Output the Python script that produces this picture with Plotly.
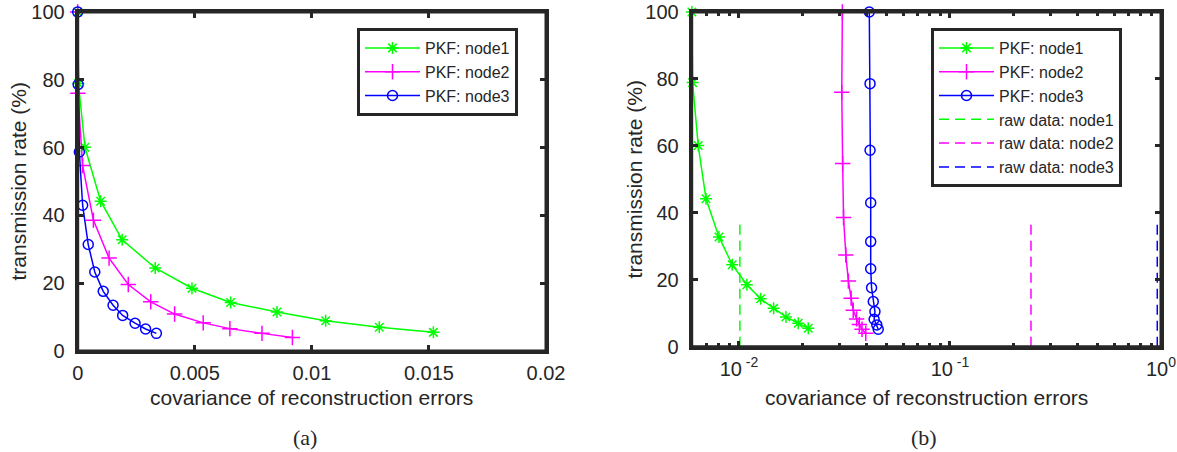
import plotly.graph_objects as go

# ---------------- data ----------------
rate_node1 = [100, 78.9, 60.1, 44.2, 32.8, 24.5, 18.5, 14.3, 11.5, 8.9, 7.0, 5.5]
rate_node2 = [100, 76.0, 54.7, 38.6, 27.4, 19.6, 14.5, 10.9, 8.3, 6.6, 5.2, 4.0]
rate_node3 = [100, 78.6, 58.7, 43.0, 31.4, 23.3, 17.6, 13.5, 10.5, 8.2, 6.5, 5.2]

cov_a_node1 = [0.0, 0.00003, 0.00031, 0.00098, 0.0019, 0.00331, 0.00488, 0.00653, 0.00851, 0.01059, 0.01288, 0.01519]
cov_a_node2 = [0.0, 0.00001, 0.00021, 0.00067, 0.00134, 0.00216, 0.00312, 0.00414, 0.00536, 0.0065, 0.00787, 0.00917]
cov_a_node3 = [0.0, 0.00002, 0.00007, 0.00021, 0.00045, 0.00073, 0.00109, 0.00151, 0.00192, 0.00245, 0.0029, 0.00336]

cov_b_node1 = [0.00598, 0.00603, 0.00641, 0.00698, 0.00804, 0.00929, 0.0109, 0.01267, 0.0146, 0.0167, 0.0191, 0.0213]
cov_b_node2 = [0.0309, 0.0307, 0.0310, 0.0313, 0.0321, 0.0330, 0.0340, 0.0348, 0.0361, 0.0372, 0.0383, 0.0399]
cov_b_node3 = [0.04146, 0.0418, 0.0418, 0.0421, 0.0421, 0.0421, 0.0425, 0.0433, 0.0441, 0.0437, 0.0450, 0.0457]

raw_cov = [0.0101, 0.242, 0.96]
raw_rate = [0, 38]

names = ["node1", "node2", "node3"]
y_ticks = [0, 20, 40, 60, 80, 100]
x_ticks_a = [0, 0.005, 0.01, 0.015, 0.02]
x_ticklabels_a = ["0", "0.005", "0.01", "0.015", "0.02"]
x_ticks_b = [0.01, 0.1, 1]
x_ticklabels_b = ["10<sup> -2</sup>", "10<sup> -1</sup>", "10<sup>0</sup>"]

# ---------------- styling ----------------
W, H = 1177, 452
colors = ["#00FF00", "#FF00FF", "#0000FF"]
symbols = ["asterisk-open", "cross-thin-open", "circle-open"]
msizes = [10, 11, 10]
INK = "#262626"
FONT = "Liberation Sans, Arial, sans-serif"

def px_x(p):
    return p / W

def px_y(p):
    return (H - p) / H

fig = go.Figure()

rates = [rate_node1, rate_node2, rate_node3]
cov_a = [cov_a_node1, cov_a_node2, cov_a_node3]
cov_b = [cov_b_node1, cov_b_node2, cov_b_node3]

for i in range(3):
    fig.add_trace(go.Scatter(
        x=cov_a[i], y=rates[i], mode="lines+markers", name="PKF: " + names[i],
        line=dict(color=colors[i], width=1.5), cliponaxis=False,
        marker=dict(symbol=symbols[i], size=msizes[i], color=colors[i],
                    line=dict(color=colors[i], width=1.5)),
        xaxis="x", yaxis="y", legend="legend"))

for i in range(3):
    fig.add_trace(go.Scatter(
        x=cov_b[i], y=rates[i], mode="lines+markers", name="PKF: " + names[i],
        line=dict(color=colors[i], width=1.5), cliponaxis=False,
        marker=dict(symbol=symbols[i], size=msizes[i], color=colors[i],
                    line=dict(color=colors[i], width=1.5)),
        xaxis="x2", yaxis="y2", legend="legend2"))

for i in range(3):
    fig.add_trace(go.Scatter(
        x=[raw_cov[i], raw_cov[i]], y=raw_rate, mode="lines",
        name="raw data: " + names[i],
        line=dict(color=colors[i], width=1.5, dash="10px,6px"),
        xaxis="x2", yaxis="y2", legend="legend2"))

axis_common = dict(
    showline=True, linecolor=INK, linewidth=3, mirror="ticks",
    ticks="inside", ticklen=6, tickwidth=3, tickcolor=INK,
    showgrid=False, zeroline=False, automargin=False,
    ticklabeloverflow="allow",
    tickfont=dict(family=FONT, size=20, color=INK),
)

dom_a = [px_x(77.7), px_x(546)]
dom_b = [px_x(691.7), px_x(1161)]

legend_common = dict(
    xanchor="left", yanchor="top", bgcolor="white", bordercolor=INK,
    borderwidth=3, font=dict(family=FONT, size=16, color=INK), tracegroupgap=0,
    itemwidth=55,
)

fig.update_layout(
    template="none",
    width=W, height=H,
    margin=dict(l=0, r=0, t=0, b=0, pad=0, autoexpand=False),
    paper_bgcolor="white", plot_bgcolor="white",
    font=dict(family=FONT, color=INK),
    xaxis=dict(domain=dom_a, range=[0, 0.02], tickvals=x_ticks_a,
               ticktext=x_ticklabels_a, anchor="y", ticklabelstandoff=2,
               **axis_common),
    yaxis=dict(domain=[px_y(351), px_y(12)], range=[0, 100], tickvals=y_ticks,
               anchor="x", ticklabelstandoff=6, **axis_common),
    xaxis2=dict(domain=dom_b, type="log", range=[-2.224, 0], tickvals=x_ticks_b,
                ticktext=x_ticklabels_b, anchor="y2", ticklabelstandoff=2,
                minor=dict(ticks="inside", ticklen=4, tickwidth=3, tickcolor=INK,
                           tickvals=[0.006, 0.007, 0.008, 0.009,
                                     0.02, 0.03, 0.04, 0.05, 0.06, 0.07, 0.08, 0.09,
                                     0.2, 0.3, 0.4, 0.5, 0.6, 0.7, 0.8, 0.9],
                           showgrid=False),
                **axis_common),
    yaxis2=dict(domain=[px_y(346.7), px_y(12)], range=[0, 100], tickvals=y_ticks,
                anchor="x2", ticklabelstandoff=6, **axis_common),
    legend=dict(x=px_x(357), y=px_y(28), **legend_common),
    legend2=dict(x=px_x(931), y=px_y(28), **legend_common),
    showlegend=True,
)

# box frames around each axes
shapes = []
for xr, yr in (("x domain", "y domain"), ("x2 domain", "y2 domain")):
    shapes.append(dict(type="rect", xref=xr, yref=yr, x0=0, x1=1, y0=0, y1=1,
                       line=dict(color=INK, width=3), layer="above"))
fig.update_layout(shapes=shapes)

ann_font = dict(family=FONT, size=21, color=INK)
serif = dict(family="Liberation Serif, DejaVu Serif, serif", size=22, color=INK)
annotations = [
    dict(text="covariance of reconstruction errors", x=(dom_a[0] + dom_a[1]) / 2,
         y=px_y(397), xref="paper", yref="paper", showarrow=False,
         xanchor="center", yanchor="middle", font=ann_font),
    dict(text="covariance of reconstruction errors", x=(dom_b[0] + dom_b[1]) / 2,
         y=px_y(397), xref="paper", yref="paper", showarrow=False,
         xanchor="center", yanchor="middle", font=ann_font),
    dict(text="transmission rate (%)", x=px_x(18), y=px_y(181.5), xref="paper",
         yref="paper", showarrow=False, textangle=-90, xanchor="center",
         yanchor="middle", font=ann_font),
    dict(text="transmission rate (%)", x=px_x(634), y=px_y(179.4), xref="paper",
         yref="paper", showarrow=False, textangle=-90, xanchor="center",
         yanchor="middle", font=ann_font),
    dict(text="(a)", x=px_x(305), y=px_y(437), xref="paper", yref="paper",
         showarrow=False, xanchor="center", yanchor="middle", font=serif),
    dict(text="(b)", x=px_x(924), y=px_y(437), xref="paper", yref="paper",
         showarrow=False, xanchor="center", yanchor="middle", font=serif),
]
fig.update_layout(annotations=annotations)

fig.write_html(
    "out.html",
    config={"displayModeBar": False},
    post_script="document.body.style.margin='0';document.body.style.overflow='hidden';",
)
